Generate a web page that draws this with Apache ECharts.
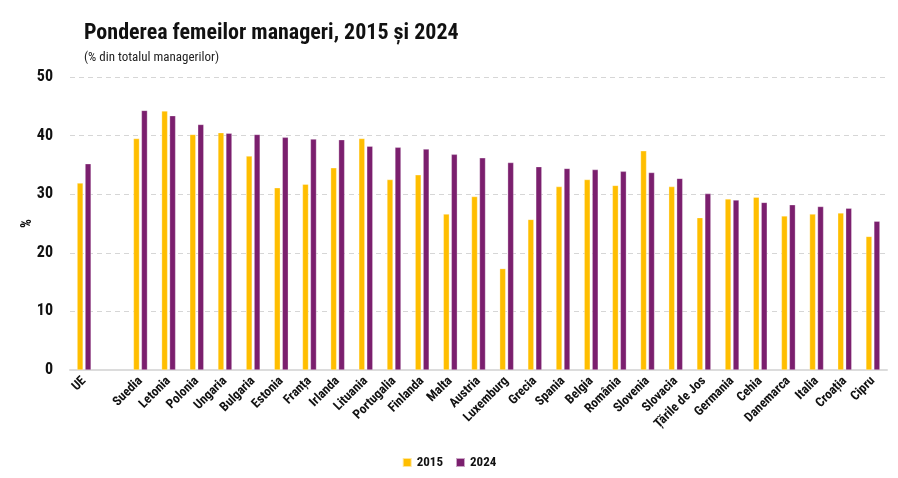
<!DOCTYPE html>
<html>
<head>
<meta charset="utf-8">
<script src="https://cdn.jsdelivr.net/npm/echarts@6/dist/echarts.min.js"></script>
<style>
html,body{margin:0;padding:0;background:#fff;}
#c{width:898px;height:478px;}
</style>
</head>
<body>
<div id="c"></div>
<script>
const categories = ["UE","","Suedia","Letonia","Polonia","Ungaria","Bulgaria","Estonia","Franța","Irlanda","Lituania","Portugalia","Finlanda","Malta","Austria","Luxemburg","Grecia","Spania","Belgia","România","Slovenia","Slovacia","Țările de Jos","Germania","Cehia","Danemarca","Italia","Croația","Cipru"];
const values2015 = [31.9,null,39.5,44.2,40.2,40.5,36.5,31.1,31.7,34.5,39.5,32.5,33.3,26.6,29.6,17.3,25.7,31.3,32.5,31.5,37.4,31.3,26.0,29.2,29.5,26.3,26.6,26.8,22.8];
const values2024 = [35.2,null,44.3,43.4,41.9,40.4,40.2,39.7,39.4,39.3,38.2,38.0,37.7,36.8,36.2,35.4,34.7,34.4,34.2,33.9,33.7,32.7,30.1,29.0,28.6,28.2,27.9,27.6,25.4];
const yTicks = [0,10,20,30,40,50];

const FONT = '"Roboto Condensed", "Open Sans Condensed", sans-serif';
const chart = echarts.init(document.getElementById('c'));
chart.setOption({
  animation:false,
  title:{
    text:'Ponderea femeilor manageri, 2015 și 2024',
    subtext:'(% din totalul managerilor)',
    left:79, top:17, itemGap:7,
    textStyle:{fontFamily:FONT,fontWeight:'bold',fontSize:22,color:'#111'},
    subtextStyle:{fontFamily:FONT,fontSize:13,color:'#222'}
  },
  legend:{
    top:451, left:'center', itemWidth:9, itemHeight:9, itemGap:12,
    icon:'rect',
    textStyle:{fontFamily:FONT,fontWeight:'bold',fontSize:13,color:'#111'},
    data:['2015','2024']
  },
  grid:{left:70,right:11,top:77,bottom:108,containLabel:false},
  xAxis:{
    type:'category', data:categories,
    axisLine:{lineStyle:{color:'#dcdcdc',width:2}},
    axisTick:{show:false},
    axisLabel:{interval:0,rotate:45,fontFamily:FONT,fontWeight:'bold',fontSize:13,color:'#111',margin:9}
  },
  yAxis:{
    type:'value', min:0, max:50, interval:10,
    name:'%', nameLocation:'middle', nameGap:36, nameMoveOverlap:false,
    nameTextStyle:{fontFamily:FONT,fontWeight:'bold',fontSize:14,color:'#111'},
    axisLine:{show:false}, axisTick:{show:false},
    axisLabel:{fontFamily:FONT,fontWeight:'bold',fontSize:16,color:'#111',margin:17,
      formatter:v=>yTicks.includes(v)?String(v):''},
    splitLine:{lineStyle:{color:'#d6d6d6',type:[5,4],width:1}}
  },
  series:[
    {name:'2015',type:'bar',data:values2015,barWidth:6,barGap:'33%',
     itemStyle:{color:'#FFBE00',borderColor:'rgba(255,255,255,0.6)',borderWidth:0.5}},
    {name:'2024',type:'bar',data:values2024,barWidth:6,
     itemStyle:{color:'#7B1F6E',borderColor:'rgba(255,255,255,0.6)',borderWidth:0.5}}
  ]
});
</script>
</body>
</html>
